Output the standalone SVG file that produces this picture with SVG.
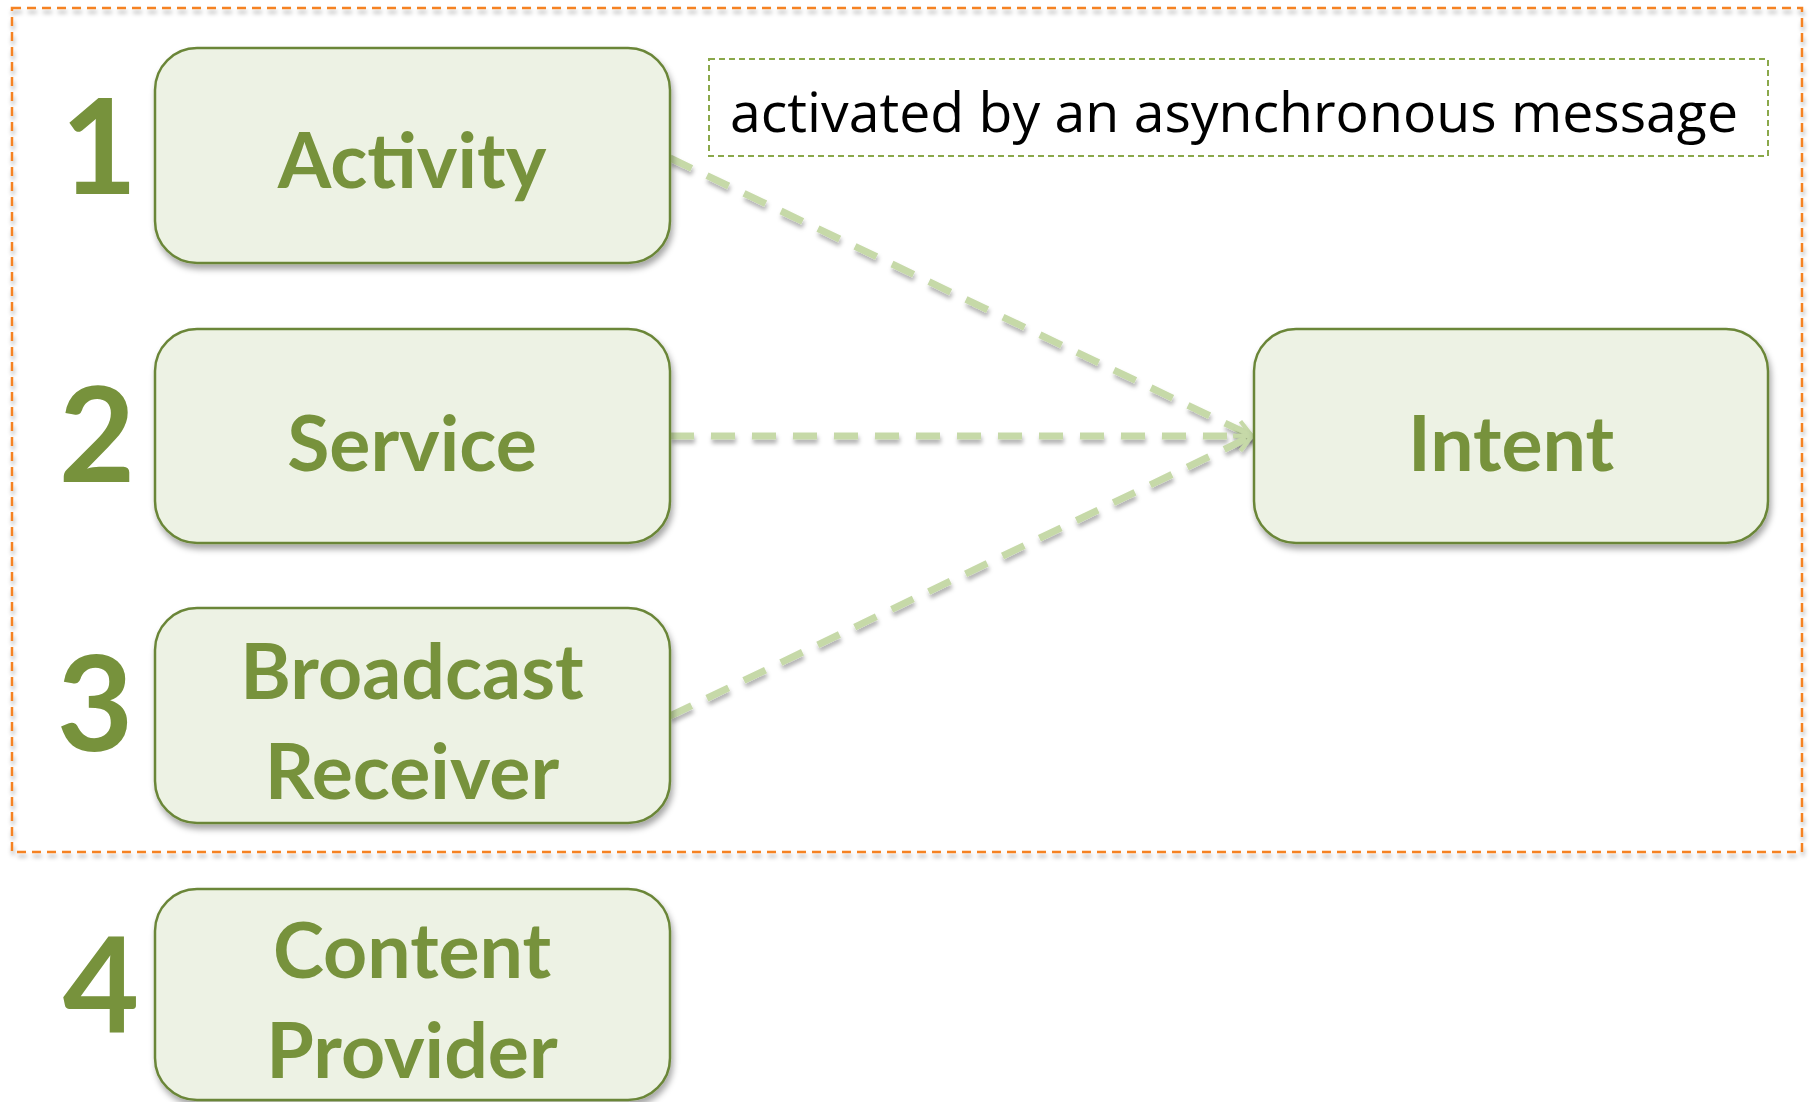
<svg xmlns="http://www.w3.org/2000/svg" width="1810" height="1102" viewBox="0 0 1810 1102">
  <style>
    .box { fill: #edf2e4; stroke: #6b8638; stroke-width: 2.5; filter: url(#shadow); }
    .label { font-family: Lato, "Open Sans", sans-serif; font-weight: bold; font-size: 77px; fill: #77923c; text-anchor: middle; }
    .num { font-family: Lato, "Open Sans", sans-serif; font-weight: bold; font-size: 132px; fill: #77923c; text-anchor: middle; }
    .note { font-family: "Open Sans", "Liberation Sans", sans-serif; font-size: 55px; fill: #000; }
    .link { fill: none; stroke: #c6d9a8; stroke-width: 7; stroke-dasharray: 24 17; filter: url(#lshadow); }
  </style>
  <defs>
    <filter id="shadow" x="-10%" y="-10%" width="125%" height="130%">
      <feDropShadow dx="2" dy="5" stdDeviation="3" flood-color="#000" flood-opacity="0.35"/>
    </filter>
    <!-- user-space region so horizontal lines (zero-height bbox) still render -->
    <filter id="lshadow" filterUnits="userSpaceOnUse" x="0" y="0" width="1810" height="1102">
      <feDropShadow dx="1" dy="4" stdDeviation="2" flood-color="#000" flood-opacity="0.3"/>
    </filter>
    <marker id="arrow" viewBox="0 0 10 10" refX="9" refY="5" markerWidth="3" markerHeight="3" orient="auto" markerUnits="strokeWidth">
      <path d="M1,1 L9,5 L1,9" fill="none" stroke="#c6d9a8" stroke-width="2"/>
    </marker>
  </defs>

  <rect width="1810" height="1102" fill="#ffffff"/>

  <!-- orange dashed frame around the intent-activated components -->
  <rect x="12" y="8" width="1790" height="844" fill="none" stroke="#f58220" stroke-width="2.5" stroke-dasharray="9 6" filter="url(#lshadow)"/>

  <!-- connectors -->
  <g id="connectors">
    <line class="link" x1="670" y1="158" x2="1252" y2="436" marker-end="url(#arrow)"/>
    <line class="link" x1="670" y1="436" x2="1252" y2="436" marker-end="url(#arrow)"/>
    <line class="link" x1="670" y1="716" x2="1252" y2="436" marker-end="url(#arrow)"/>
  </g>

  <!-- note -->
  <g id="note">
    <rect x="709" y="59" width="1059" height="97" fill="#ffffff" stroke="#8aa84a" stroke-width="2" stroke-dasharray="6 4"/>
    <text class="note" x="730" y="132" textLength="1008" lengthAdjust="spacingAndGlyphs">activated by an asynchronous message</text>
  </g>

  <!-- numbered component nodes -->
  <g id="activity">
    <text class="num" x="99" y="194">1</text>
    <rect class="box" x="155" y="48" width="515" height="215" rx="42"/>
    <text class="label" x="412" y="188">Activity</text>
  </g>
  <g id="service">
    <text class="num" x="97" y="482">2</text>
    <rect class="box" x="155" y="329" width="515" height="214" rx="42"/>
    <text class="label" x="412" y="471">Service</text>
  </g>
  <g id="broadcast-receiver">
    <text class="num" x="95" y="751">3</text>
    <rect class="box" x="155" y="608" width="515" height="215" rx="42"/>
    <text class="label" x="412" y="699">Broadcast</text>
    <text class="label" x="412" y="799">Receiver</text>
  </g>
  <g id="content-provider">
    <text class="num" x="101" y="1032">4</text>
    <rect class="box" x="155" y="889" width="515" height="211" rx="42"/>
    <text class="label" x="412" y="978">Content</text>
    <text class="label" x="412" y="1078">Provider</text>
  </g>
  <g id="intent">
    <rect class="box" x="1254" y="329" width="514" height="214" rx="42"/>
    <text class="label" x="1511" y="471">Intent</text>
  </g>
</svg>
